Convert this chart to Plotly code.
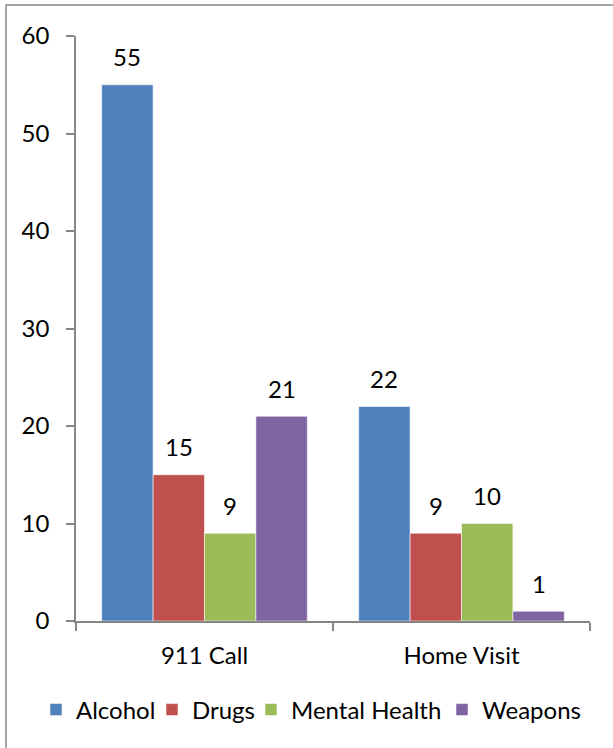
import plotly.graph_objects as go

# Incident types by call category
categories = ["911 Call", "Home Visit"]
series_names = ["Alcohol", "Drugs", "Mental Health", "Weapons"]
alcohol = [55, 22]
drugs = [15, 9]
mental_health = [9, 10]
weapons = [21, 1]
colors = ["#4F81BD", "#C0504D", "#9BBB59", "#8064A2"]
y_ticks = [0, 10, 20, 30, 40, 50, 60]

series_values = [alcohol, drugs, mental_health, weapons]
legend_widths = [71, 54, 146, 100]

FONT = "Lato"
FONT_SIZE = 24
AXIS_GRAY = "#868686"

fig = go.Figure()
for name, vals, col, lw in zip(series_names, series_values, colors, legend_widths):
    fig.add_trace(go.Bar(
        name=name,
        x=categories,
        y=vals,
        legendwidth=lw,
        marker=dict(color=col, line=dict(color="rgba(255,255,255,0.55)", width=1)),
    ))

# value labels above each bar
bargap = 0.2
n = len(series_names)
bar_w = (1 - bargap) / n
annotations = []
for i, vals in enumerate(series_values):
    offset = -(1 - bargap) / 2 + bar_w * (i + 0.5)
    for j, v in enumerate(vals):
        annotations.append(dict(
            x=j + offset, y=v, xref="x", yref="y",
            text=str(v), showarrow=False,
            yanchor="middle", yshift=28,
            font=dict(family=FONT, size=FONT_SIZE, color="#000000"),
        ))

# outer chart frame
L, R, T, B = 76, 23, 36, 127
W, H = 613, 748
pw, ph = W - L - R, H - T - B
def px_x(p):
    return (p - L) / pw
def px_y(p):
    return (H - B - p) / ph

fig.update_layout(
    width=W, height=H,
    margin=dict(l=L, r=R, t=T, b=B, autoexpand=False),
    paper_bgcolor="white", plot_bgcolor="white",
    barmode="group", bargap=bargap, bargroupgap=0,
    font=dict(family=FONT, size=FONT_SIZE, color="#000000"),
    showlegend=True,
    legend=dict(
        orientation="h", x=px_x(36), xanchor="left",
        y=px_y(710), yanchor="middle",
        font=dict(family=FONT, size=FONT_SIZE, color="#000000"),
        itemwidth=30, tracegroupgap=0, bgcolor="rgba(0,0,0,0)",
    ),
    annotations=annotations,
    shapes=[dict(
        type="rect", xref="paper", yref="paper",
        x0=px_x(6), x1=px_x(640), y0=px_y(780), y1=px_y(5),
        line=dict(color=AXIS_GRAY, width=1.5), fillcolor="rgba(0,0,0,0)",
        layer="below",
    )],
)

fig.update_xaxes(
    type="category",
    showline=True, linecolor=AXIS_GRAY, linewidth=1.5,
    ticks="outside", tickson="boundaries", ticklen=8, tickcolor=AXIS_GRAY,
    tickwidth=1.5, ticklabelstandoff=12,
    showgrid=False, zeroline=False,
    tickfont=dict(family=FONT, size=FONT_SIZE, color="#000000"),
)
fig.update_yaxes(
    range=[0, 60], tickvals=y_ticks,
    showline=True, linecolor=AXIS_GRAY, linewidth=1.5,
    ticks="outside", ticklen=8, tickcolor=AXIS_GRAY, tickwidth=1.5,
    ticklabelstandoff=12,
    showgrid=False, zeroline=False,
    tickfont=dict(family=FONT, size=FONT_SIZE, color="#000000"),
)

fig.write_html("out.html")
